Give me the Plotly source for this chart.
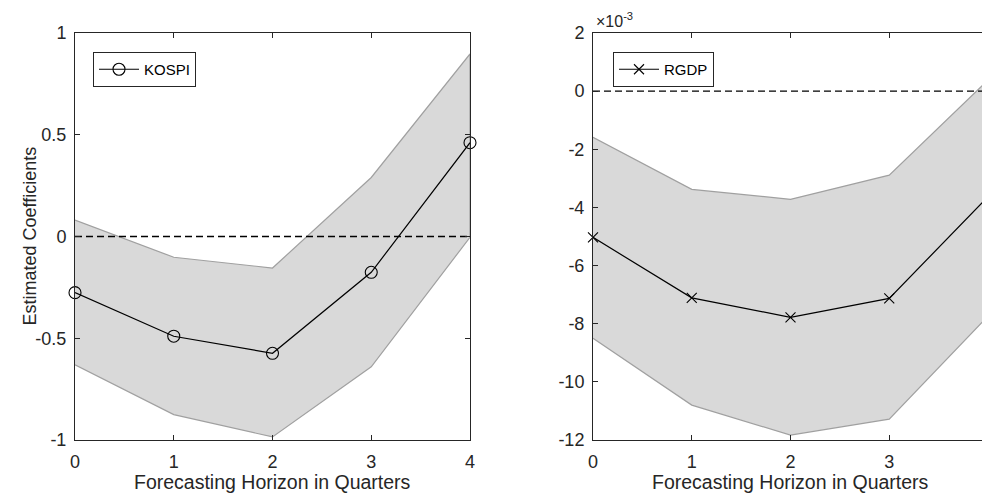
import plotly.graph_objects as go

# ---------------- data ----------------
horizon = [0, 1, 2, 3, 4]
x_ticks = [0, 1, 2, 3, 4]

kospi_mean = [-0.276, -0.49, -0.574, -0.176, 0.461]
kospi_upper = [0.081, -0.102, -0.155, 0.29, 0.897]
kospi_lower = [-0.63, -0.875, -0.985, -0.64, -0.004]
kospi_yticks = [-1, -0.5, 0, 0.5, 1]
kospi_yticklabels = ["-1", "-0.5", "0", "0.5", "1"]

rgdp_mean = [-5.03e-3, -7.11e-3, -7.78e-3, -7.13e-3, -3.63e-3]
rgdp_upper = [-1.59e-3, -3.38e-3, -3.72e-3, -2.89e-3, 0.38e-3]
rgdp_lower = [-8.50e-3, -10.80e-3, -11.83e-3, -11.28e-3, -7.74e-3]
rgdp_yticks = [-12e-3, -10e-3, -8e-3, -6e-3, -4e-3, -2e-3, 0, 2e-3]
rgdp_yticklabels = ["-12", "-10", "-8", "-6", "-4", "-2", "0", "2"]

# ---------------- style ----------------
WIN_W, WIN_H = 990, 495
OFF = 8  # default page body margin
W, H = WIN_W - OFF, WIN_H - OFF
FONT = "Liberation Sans, Arial, sans-serif"
AX_COLOR = "#262626"
BAND_FILL = "#d9d9d9"
BAND_EDGE = "#a0a0a0"


def px(x):
    return (x - OFF) / W


def py(y):
    return 1 - (y - OFF) / H


fig = go.Figure()


def add_panel(xa, ya, mean, upper, lower, name, symbol, msize, legend):
    # confidence band
    fig.add_trace(go.Scatter(
        x=horizon + horizon[::-1], y=upper + lower[::-1],
        xaxis=xa, yaxis=ya, mode="lines", fill="toself",
        fillcolor=BAND_FILL, line=dict(color=BAND_EDGE, width=1.2),
        showlegend=False, hoverinfo="skip"))
    # zero line
    fig.add_trace(go.Scatter(
        x=[horizon[0], horizon[-1]], y=[0, 0], xaxis=xa, yaxis=ya,
        mode="lines", line=dict(color="black", width=1.4, dash="7px,4px"),
        showlegend=False, hoverinfo="skip"))
    # point estimates
    fig.add_trace(go.Scatter(
        x=horizon, y=mean, xaxis=xa, yaxis=ya, mode="lines+markers",
        name=name, legend=legend,
        line=dict(color="black", width=1.2),
        marker=dict(symbol=symbol, size=msize, color="black",
                    line=dict(color="black", width=1.1)),
        cliponaxis=False))


add_panel("x", "y", kospi_mean, kospi_upper, kospi_lower,
          "KOSPI", "circle-open", 12, "legend")
add_panel("x2", "y2", rgdp_mean, rgdp_upper, rgdp_lower,
          "RGDP", "x-thin-open", 10, "legend2")

TOP, BOTTOM = 33, 440
y_dom = [py(BOTTOM), py(TOP)]
x1_dom = [px(75), px(470)]
x2_dom = [px(593), px(988)]

axis_common = dict(
    showline=True, linecolor=AX_COLOR, linewidth=1, mirror="ticks",
    ticks="inside", ticklen=5, tickcolor=AX_COLOR, tickwidth=1,
    showgrid=False, zeroline=False, automargin=False,
    ticklabeloverflow="allow",
    tickfont=dict(family=FONT, size=18, color=AX_COLOR),
)

legend_common = dict(
    xanchor="left", yanchor="top",
    bgcolor="white", bordercolor=AX_COLOR, borderwidth=1,
    font=dict(family=FONT, size=15, color="black"),
    itemwidth=40, tracegroupgap=0,
)

fig.update_layout(
    width=W, height=H,
    margin=dict(l=0, r=0, t=0, b=0, autoexpand=False),
    paper_bgcolor="white", plot_bgcolor="white",
    font=dict(family=FONT, color=AX_COLOR),
    xaxis=dict(domain=x1_dom, anchor="y", range=[0, 4],
               tickvals=x_ticks, ticktext=[str(v) for v in x_ticks],
               ticklabelstandoff=5, **axis_common),
    yaxis=dict(domain=y_dom, anchor="x", range=[-1, 1],
               tickvals=kospi_yticks, ticktext=kospi_yticklabels,
               ticklabelstandoff=4, **axis_common),
    xaxis2=dict(domain=x2_dom, anchor="y2", range=[0, 4],
                tickvals=x_ticks, ticktext=[str(v) for v in x_ticks],
                ticklabelstandoff=5, **axis_common),
    yaxis2=dict(domain=y_dom, anchor="x2", range=[-12e-3, 2e-3],
                tickvals=rgdp_yticks, ticktext=rgdp_yticklabels,
                ticklabelstandoff=4, **axis_common),
    legend=dict(x=px(93), y=py(52), **legend_common),
    legend2=dict(x=px(613), y=py(52), **legend_common),
    annotations=[
        dict(text="Estimated Coefficients", xref="paper", yref="paper",
             x=px(30), y=py(236.5), textangle=-90, showarrow=False,
             xanchor="center", yanchor="middle",
             font=dict(family=FONT, size=18, color=AX_COLOR)),
        dict(text="Forecasting Horizon in Quarters", xref="paper", yref="paper",
             x=(x1_dom[0] + x1_dom[1]) / 2, y=py(482), showarrow=False,
             xanchor="center", yanchor="middle",
             font=dict(family=FONT, size=19.5, color=AX_COLOR)),
        dict(text="Forecasting Horizon in Quarters", xref="paper", yref="paper",
             x=(x2_dom[0] + x2_dom[1]) / 2, y=py(482), showarrow=False,
             xanchor="center", yanchor="middle",
             font=dict(family=FONT, size=19.5, color=AX_COLOR)),
        dict(text="×10<sup>-3</sup>", xref="paper", yref="paper",
             x=px(594), y=py(20), showarrow=False,
             xanchor="left", yanchor="middle",
             font=dict(family=FONT, size=16, color=AX_COLOR)),
    ],
)

fig.write_html("out.html")
